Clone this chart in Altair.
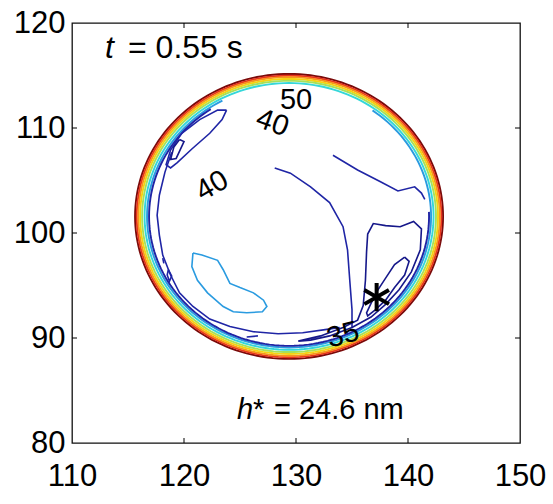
import numpy as np
import pandas as pd
import altair as alt

# ---------------- data ----------------
x_tick_values = [110, 120, 130, 140, 150]
y_tick_values = [80, 90, 100, 110, 120]
inner_x_ticks = [120, 130, 140]
inner_y_ticks = [90, 100, 110]

# contour levels and their colours (jet colormap as seen in the picture)
levels = [35, 40, 45, 50, 55, 60, 65, 70, 75]
level_colors = ["#16188a", "#1f25a5", "#2a9be0", "#35d7d9", "#a6e05a",
                "#f5d311", "#f7931e", "#e8331c", "#7a0a0a"]

# contour lines that follow the drop outline
drop_cx = 129.38
drop_cy = 101.58
ring_levels = [75, 70, 65, 60, 55, 50, 45, 40]
ring_rx = [13.75, 13.60, 13.46, 13.30, 13.12, 12.90, 12.68, 12.50]
ring_ry = [13.57, 13.41, 13.27, 13.10, 12.92, 12.70, 12.48, 12.33]
ring_from_deg = [0, 0, 0, 0, 0, 0, 118, 124]
ring_to_deg = [360, 360, 360, 360, 360, 360, 414, 362]

# interior contour lines (x, y in data units)
seg_B_tail_x = [141.5, 141.2, 140.6, 139.1, 137.5, 135.5, 133.3]
seg_B_tail_y = [103.2, 103.8, 104.4, 104.0, 104.9, 106.0, 107.4]

seg_A_x = [128.1, 129.5, 131.3, 133.0, 134.2, 134.6, 134.8, 135.0, 135.0]
seg_A_y = [106.2, 105.7, 104.4, 102.9, 100.6, 98.4, 95.5, 92.7, 91.0]

seg_C_x = [130.2, 132.2, 134.2, 135.5, 136.0, 136.2, 136.3, 136.4, 136.9, 138.0,
           139.3, 140.5, 141.2, 141.1, 140.3, 139.2, 138.0, 136.7, 135.0, 133.0,
           131.3, 130.2]
seg_C_y = [89.7, 90.2, 91.0, 91.7, 93.1, 95.5, 98.2, 99.9, 100.9, 100.7,
           100.6, 101.1, 100.4, 98.4, 96.3, 94.6, 93.2, 92.0, 91.0, 90.2,
           89.8, 89.7]

seg_D_x = [139.7, 140.1, 139.7, 138.8, 138.0, 137.1, 136.4, 136.3, 136.7, 137.2,
           138.0, 138.8, 139.7]
seg_D_y = [97.7, 97.3, 96.0, 94.8, 93.6, 92.7, 92.1, 92.4, 93.3, 94.4,
           95.7, 97.0, 97.7]

seg_E_x = [118.9, 118.3, 117.8, 117.6, 117.8, 118.1, 118.8, 119.6, 120.8, 122.3,
           124.1, 126.2, 128.4, 130.6, 132.6, 133.9]
seg_E_y = [107.7, 105.8, 103.6, 101.7, 99.8, 97.9, 96.0, 94.3, 93.0, 91.8,
           91.1, 90.6, 90.4, 90.5, 90.8, 91.0]

seg_F_x = [123.8, 123.0, 121.4, 119.8, 118.8, 118.4, 118.8, 119.4, 120.7, 122.3,
           123.4, 123.8]
seg_F_y = [111.7, 111.7, 110.8, 109.5, 107.9, 106.5, 106.2, 106.7, 108.0, 109.5,
           110.8, 111.7]

seg_G_x = [119.6, 120.0, 119.3, 118.8, 119.1, 119.6]
seg_G_y = [108.9, 108.7, 107.1, 107.0, 108.2, 108.9]

seg_H_x = [120.8, 121.6, 123.0, 123.5, 124.1, 125.0, 126.2, 127.1, 127.4, 127.0,
           125.6, 124.4, 123.5, 122.1, 121.2, 120.7, 120.8]
seg_H_y = [98.1, 97.9, 97.4, 96.5, 95.2, 94.8, 94.3, 93.6, 93.0, 92.5,
           92.4, 92.5, 93.0, 94.3, 95.5, 96.8, 98.1]

seg_I_x = [118.1, 118.2]
seg_I_y = [97.6, 97.1]
seg_J_x = [118.6, 118.9, 118.7, 118.5, 118.6]
seg_J_y = [96.5, 95.9, 95.4, 96.0, 96.5]
seg_K_x = [125.6, 126.6]
seg_K_y = [90.1, 90.2]

segments = [
    ("B_tail", 40, seg_B_tail_x, seg_B_tail_y),
    ("A", 40, seg_A_x, seg_A_y),
    ("C", 35, seg_C_x, seg_C_y),
    ("D", 35, seg_D_x, seg_D_y),
    ("E", 40, seg_E_x, seg_E_y),
    ("F", 40, seg_F_x, seg_F_y),
    ("G", 35, seg_G_x, seg_G_y),
    ("H", 45, seg_H_x, seg_H_y),
    ("I", 40, seg_I_x, seg_I_y),
    ("J", 40, seg_J_x, seg_J_y),
    ("K", 40, seg_K_x, seg_K_y),
]

# contour labels
label_text = ["50", "40", "40", "35"]
label_x = [130.0, 127.9, 122.5, 134.2]
label_y = [112.7, 110.5, 104.5, 90.3]
label_angle = [0, 20, 330, 345]

# marked point
star_x = [137.2]
star_y = [93.9]

# ---------------- build tables ----------------
rows = []
for i, lev in enumerate(ring_levels):
    t = np.deg2rad(np.arange(ring_from_deg[i], ring_to_deg[i] + 0.01, 2.0))
    xs = drop_cx + ring_rx[i] * np.cos(t)
    ys = drop_cy + ring_ry[i] * np.sin(t)
    for k, (xv, yv) in enumerate(zip(xs, ys)):
        rows.append({"x": float(xv), "y": float(yv), "seg": f"ring{lev}", "level": lev,
                     "o": k, "ring": 1})
for name, lev, xs, ys in segments:
    for k, (xv, yv) in enumerate(zip(xs, ys)):
        rows.append({"x": xv, "y": yv, "seg": name, "level": lev, "o": k, "ring": 0})
lines_df = pd.DataFrame(rows)

labels_df = pd.DataFrame({"x": label_x, "y": label_y, "t": label_text, "a": label_angle})
star_df = pd.DataFrame({"x": star_x, "y": star_y})

W, H = 448, 420
FONT = "Liberation Sans"

xscale = alt.Scale(domain=[110, 150], nice=False, zero=False)
yscale = alt.Scale(domain=[80, 120], nice=False, zero=False)

xaxis = alt.Axis(values=x_tick_values, ticks=False, tickSize=0, grid=False, domain=False,
                 labelFontSize=31, labelFont=FONT, labelColor="black", labelPadding=18,
                 labelFlush=False, labelOverlap=False, title=None)
yaxis = alt.Axis(values=y_tick_values, ticks=False, tickSize=0, grid=False, domain=False,
                 labelFontSize=31, labelFont=FONT, labelColor="black", labelPadding=7,
                 labelFlush=False, labelOverlap=False, title=None)

lines = alt.Chart(lines_df).mark_line(clip=True).encode(
    x=alt.X("x:Q", scale=xscale, axis=xaxis),
    y=alt.Y("y:Q", scale=yscale, axis=yaxis),
    color=alt.Color("level:O", scale=alt.Scale(domain=levels, range=level_colors), legend=None),
    strokeWidth=alt.StrokeWidth("ring:N", scale=alt.Scale(domain=[0, 1], range=[1.6, 1.9]),
                                legend=None),
    detail="seg:N",
    order="o:Q",
)

labels = alt.Chart(labels_df).mark_text(fontSize=29, font=FONT, color="black",
                                        align="center", baseline="middle").encode(
    x=alt.X("x:Q", scale=xscale),
    y=alt.Y("y:Q", scale=yscale),
    text="t:N",
    angle=alt.Angle("a:Q", scale=None),
)

star = alt.Chart(star_df).mark_point(
    shape="M0,-1L0,1M-0.87,-0.5L0.87,0.5M-0.87,0.5L0.87,-0.5",
    size=800, strokeWidth=4, color="black", filled=False, opacity=1,
).encode(x=alt.X("x:Q", scale=xscale), y=alt.Y("y:Q", scale=yscale))

xt_df = pd.DataFrame({"v": inner_x_ticks})
yt_df = pd.DataFrame({"v": inner_y_ticks})
tick_style = dict(color="black", strokeWidth=1)
xt_bottom = alt.Chart(xt_df).mark_rule(**tick_style).encode(
    x=alt.X("v:Q", scale=xscale), y=alt.value(H), y2=alt.value(H - 5))
xt_top = alt.Chart(xt_df).mark_rule(**tick_style).encode(
    x=alt.X("v:Q", scale=xscale), y=alt.value(0), y2=alt.value(5))
yt_left = alt.Chart(yt_df).mark_rule(**tick_style).encode(
    y=alt.Y("v:Q", scale=yscale), x=alt.value(0), x2=alt.value(5))
yt_right = alt.Chart(yt_df).mark_rule(**tick_style).encode(
    y=alt.Y("v:Q", scale=yscale), x=alt.value(W), x2=alt.value(W - 5))

t_it = alt.Chart(star_df).mark_text(text="t", fontSize=32, font=FONT, fontStyle="italic",
                                    align="left", baseline="alphabetic", color="black").encode(
    x=alt.value(33), y=alt.value(35))
t_rest = alt.Chart(star_df).mark_text(text="= 0.55 s", fontSize=32, font=FONT,
                                      align="left", baseline="alphabetic", color="black").encode(
    x=alt.value(56), y=alt.value(35))
h_it = alt.Chart(star_df).mark_text(text="h", fontSize=29, font=FONT, fontStyle="italic",
                                    align="left", baseline="alphabetic", color="black").encode(
    x=alt.value(165), y=alt.value(396))
h_star = alt.Chart(star_df).mark_text(text="*", fontSize=29, font=FONT,
                                      align="left", baseline="alphabetic", color="black").encode(
    x=alt.value(181), y=alt.value(396))
h_rest = alt.Chart(star_df).mark_text(text="= 24.6 nm", fontSize=29, font=FONT,
                                      align="left", baseline="alphabetic", color="black").encode(
    x=alt.value(202), y=alt.value(396))

chart = alt.layer(
    lines, labels, star, xt_bottom, xt_top, yt_left, yt_right,
    t_it, t_rest, h_it, h_star, h_rest
).properties(
    width=W, height=H,
    autosize=alt.AutoSizeParams(type="none"),
    padding={"left": 72, "top": 23, "right": 33, "bottom": 61},
    background="white",
).configure_view(stroke="#111111", strokeWidth=1.3)

chart.save("out.html", embed_options={"renderer": "svg", "actions": False})
